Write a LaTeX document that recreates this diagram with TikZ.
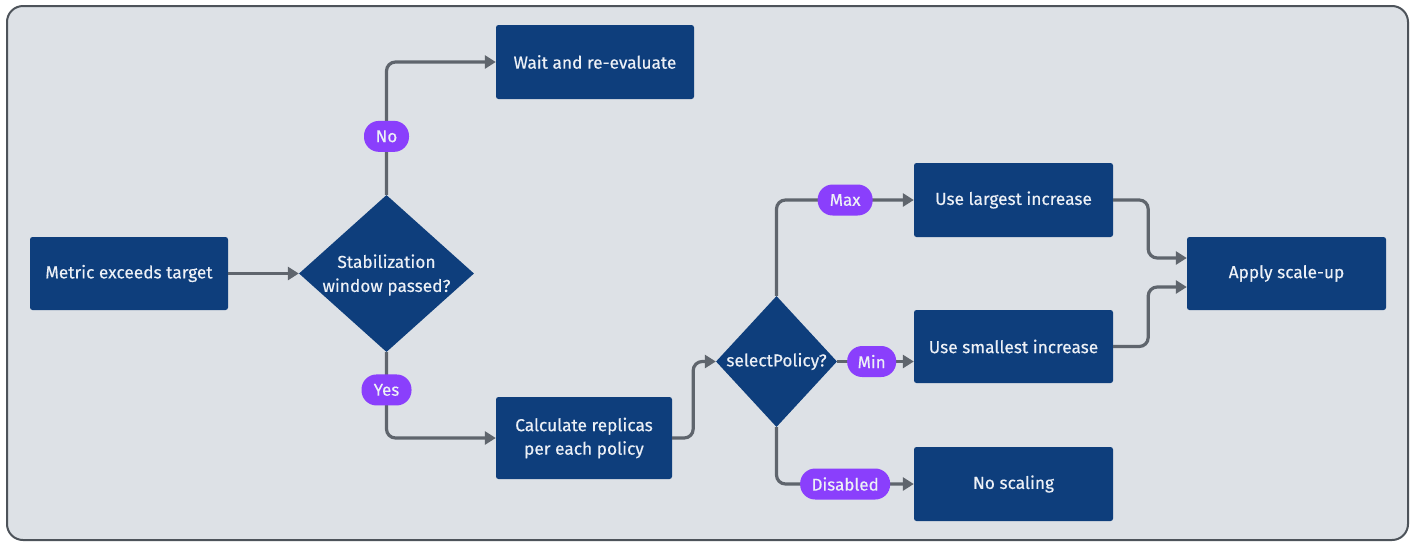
\documentclass[tikz,border=0pt]{standalone}
\usepackage{fontspec}
\setmainfont{Fira Sans}
\newfontfamily\medfont{Fira Sans}[FakeBold=0.35]
\usetikzlibrary{arrows.meta,shapes.geometric,calc}
\definecolor{bg}{RGB}{221,225,230}
\definecolor{framec}{RGB}{77,83,90}
\definecolor{navy}{RGB}{14,62,124}
\definecolor{pill}{RGB}{138,63,252}
\definecolor{arrc}{RGB}{95,101,109}
\definecolor{txt}{RGB}{236,240,246}
\tikzset{
  box/.style={draw=none, fill=navy, rounded corners=2.5pt, text=txt, align=center,
    font=\medfont\fontsize{17.3}{23.5}\selectfont, inner sep=0pt},
  decision/.style={diamond, fill=navy, draw=none, inner sep=0pt},
  dtext/.style={text=txt, align=center, font=\medfont\fontsize{17.3}{24}\selectfont, inner sep=0pt},
  pilltag/.style={fill=pill, text=txt, rounded corners=15pt, minimum height=31pt,
    inner sep=0pt, font=\medfont\fontsize{17}{20}\selectfont},
  arr/.style={draw=arrc, line width=3.2pt, rounded corners=9pt,
    -{Triangle[length=11pt,width=13pt]}},
}
\begin{document}
\begin{tikzpicture}[x=1pt,y=-1pt]
\fill[white] (0,0) rectangle (1415,542);
\useasboundingbox (0,0) rectangle (1415,542);
\draw[framec, fill=bg, line width=2pt, rounded corners=16pt] (7,6) rectangle (1408,540);

% boxes
\node[box, minimum width=198pt, minimum height=73pt] (m) at (129,273.5) {Metric exceeds target};
\node[decision, minimum width=175pt, minimum height=157pt] (d1) at (386.5,273.5) {};
\node[dtext] (d1t) at (386.5,275) {Stabilization\\window passed?};
\node[box, minimum width=198pt, minimum height=74pt] (wait) at (595,62) {Wait and re-evaluate};
\node[box, minimum width=176pt, minimum height=82pt] (calc) at (584,438) {Calculate replicas\\per each policy};
\node[decision, minimum width=121pt, minimum height=131pt] (d2) at (776.5,361.5) {};
\node[dtext] (d2t) at (776.5,361.5) {selectPolicy?};
\node[box, minimum width=199pt, minimum height=74pt] (large) at (1013.5,200) {Use largest increase};
\node[box, minimum width=199pt, minimum height=73pt] (small) at (1013.5,346.5) {Use smallest increase};
\node[box, minimum width=199pt, minimum height=74pt] (nos) at (1013.5,484) {No scaling};
\node[box, minimum width=199pt, minimum height=73pt] (apply) at (1286.5,273.5) {Apply scale-up};

% connectors
\draw[arr] (m.east) -- (d1.west);
\draw[arr] (d1.north) |- (wait.west)
  node[pilltag, minimum width=45pt, pos=0.22] (no) {No};
\draw[arr] (d1.south) |- (calc.west)
  node[pilltag, minimum width=50pt, pos=0.22] (yes) {Yes};
\coordinate (c1) at ($(calc.east)+(21,0)$);
\draw[arr] (calc.east) -- (c1) |- (d2.west);
\draw[arr] (d2.north) |- (large.west)
  node[pilltag, minimum width=55pt, pos=0.75] (max) {Max};
\draw[arr] (d2.east) -- (d2.east -| small.west)
  node[pilltag, minimum width=49pt, pos=0.45] (min) {Min};
\draw[arr] (d2.south) |- (nos.west)
  node[pilltag, minimum width=90pt, pos=0.75] (dis) {Disabled};
\coordinate (c2) at ($(large.east)+(35,0)$);
\coordinate (c3) at ($(small.east)+(35,0)$);
\draw[arr] (large.east) -- (c2) |- ([yshift=15.5pt]apply.west);
\draw[arr] (small.east) -- (c3) |- ([yshift=-13.5pt]apply.west);
\end{tikzpicture}
\end{document}
